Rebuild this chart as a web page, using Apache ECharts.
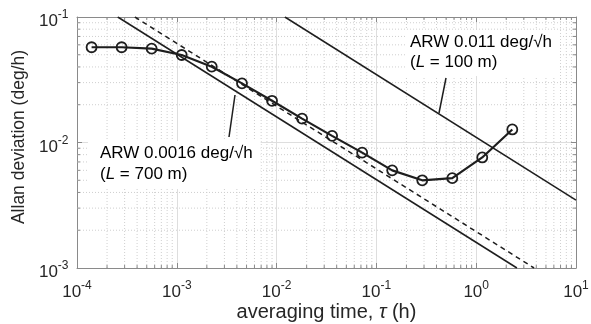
<!DOCTYPE html>
<html>
<head>
<meta charset="utf-8">
<script src="https://cdn.jsdelivr.net/npm/echarts@6/dist/echarts.min.js"></script>
<style>
html,body{margin:0;padding:0;background:#fff;}
#chart{width:591px;height:324px;}
</style>
</head>
<body>
<div id="chart"></div>
<script>
// averaging time tau (h)
const tau = [1.4e-4, 2.8e-4, 5.6e-4, 1.12e-3, 2.24e-3, 4.5e-3, 9.0e-3, 1.8e-2, 3.6e-2, 7.2e-2, 0.144, 0.288, 0.576, 1.15, 2.3];
// Allan deviation (deg/h)
const adev = [0.0574, 0.0574, 0.0559, 0.0498, 0.0402, 0.0296, 0.0215, 0.0155, 0.0113, 0.0083, 0.0060, 0.0050, 0.0052, 0.0076, 0.0127];
// ARW reference lines (endpoints [tau, sigma])
const arwHigh = [[0.0121, 0.1], [10, 0.00348]];      // 0.011 deg/sqrt(h)
const arwLow = [[2.56e-4, 0.1], [2.56, 0.001]];       // 0.0016 deg/sqrt(h)
const arwDashed = [[3.8e-4, 0.1], [3.8, 0.001]];      // dashed
// tick labels: 10^exponent
const xTickExps = ['-4', '-3', '-2', '-1', '0', '1'];
const yTickExps = ['-3', '-2', '-1'];
const xRange = [1e-4, 10];
const yRange = [1e-3, 1e-1];
const xMinor = [];
for (let d = -4; d <= 0; d++) for (let k = 2; k <= 9; k++) xMinor.push(+(k * Math.pow(10, d)).toPrecision(3));
const yMinor = [];
for (let d = -3; d <= -2; d++) for (let k = 2; k <= 9; k++) yMinor.push(+(k * Math.pow(10, d)).toPrecision(3));

const FONT = '"Liberation Sans", Arial, Helvetica, sans-serif';
const TXT = '#262626';
const AX = '#8a8a8a';
const LINE = '#1e1e1e';
const BASE_FONT = '17px ' + FONT;
const SUP_FONT = '12px ' + FONT;

const mctx = document.createElement('canvas').getContext('2d');
function textW(t, f) { mctx.font = f; return mctx.measureText(t).width; }

const chart = echarts.init(document.getElementById('chart'), null, {renderer: 'canvas'});

function minorX(params, api) {
  const v = api.value(0);
  const pb = api.coord([v, yRange[0]]);
  const pt = api.coord([v, yRange[1]]);
  return {type: 'group', children: [
    {type: 'line', shape: {x1: pb[0], y1: pb[1], x2: pt[0], y2: pt[1]}, style: {stroke: '#cfcfcf', lineWidth: 1, lineDash: [1, 2]}},
    {type: 'line', shape: {x1: pb[0], y1: pb[1], x2: pb[0], y2: pb[1] - 3}, style: {stroke: AX, lineWidth: 1}},
    {type: 'line', shape: {x1: pt[0], y1: pt[1], x2: pt[0], y2: pt[1] + 3}, style: {stroke: AX, lineWidth: 1}}
  ]};
}
function minorY(params, api) {
  const v = api.value(1);
  const pl = api.coord([xRange[0], v]);
  const pr = api.coord([xRange[1], v]);
  return {type: 'group', children: [
    {type: 'line', shape: {x1: pl[0], y1: pl[1], x2: pr[0], y2: pr[1]}, style: {stroke: '#cfcfcf', lineWidth: 1, lineDash: [1, 2]}},
    {type: 'line', shape: {x1: pl[0], y1: pl[1], x2: pl[0] + 3, y2: pl[1]}, style: {stroke: AX, lineWidth: 1}},
    {type: 'line', shape: {x1: pr[0], y1: pr[1], x2: pr[0] - 3, y2: pr[1]}, style: {stroke: AX, lineWidth: 1}}
  ]};
}
function xLabel(params, api) {
  const e = xTickExps[params.dataIndex];
  const p = api.coord([api.value(0), yRange[0]]);
  const wb = textW('10', BASE_FONT), ws = textW(e, SUP_FONT);
  const left = p[0] - (wb + ws) / 2;
  return {type: 'group', children: [
    {type: 'text', style: {text: '10', x: left, y: p[1] + 24, font: BASE_FONT, fill: TXT, align: 'left', verticalAlign: 'middle'}},
    {type: 'text', style: {text: e, x: left + wb, y: p[1] + 17.5, font: SUP_FONT, fill: TXT, align: 'left', verticalAlign: 'middle'}}
  ]};
}
function yLabel(params, api) {
  const e = yTickExps[params.dataIndex];
  const p = api.coord([xRange[0], api.value(1)]);
  const right = p[0] - 8.5;
  const ws = textW(e, SUP_FONT);
  return {type: 'group', children: [
    {type: 'text', style: {text: '10', x: right - ws, y: p[1] + 4.5, font: BASE_FONT, fill: TXT, align: 'right', verticalAlign: 'middle'}},
    {type: 'text', style: {text: e, x: right, y: p[1] - 2, font: SUP_FONT, fill: TXT, align: 'right', verticalAlign: 'middle'}}
  ]};
}

const annRich = {
  n: {fontSize: 17, fontFamily: FONT, color: TXT, lineHeight: 20},
  i: {fontSize: 17, fontFamily: FONT, color: TXT, fontStyle: 'italic', lineHeight: 20}
};

const axisCommon = {
  axisLine: {show: true, lineStyle: {color: AX, width: 1}},
  axisTick: {show: true, inside: true, length: 5, lineStyle: {color: AX}},
  axisLabel: {show: false}
};

const option = {
  animation: false,
  backgroundColor: '#fff',
  grid: {left: 77, right: 15, top: 17, bottom: 56, containLabel: false, outerBoundsMode: 'none'},
  xAxis: [Object.assign({
    type: 'log', logBase: 10, min: xRange[0], max: xRange[1], position: 'bottom',
    splitLine: {show: true, lineStyle: {color: '#dedede', width: 1}},
    name: '{a|averaging time, }{i|τ}{a| (h)}',
    nameLocation: 'middle', nameGap: 34,
    nameTextStyle: {rich: {
      a: {fontSize: 20, fontFamily: FONT, color: TXT},
      i: {fontSize: 20, fontFamily: FONT, color: TXT, fontStyle: 'italic'}
    }}
  }, axisCommon), Object.assign({
    type: 'log', logBase: 10, min: xRange[0], max: xRange[1], position: 'top',
    splitLine: {show: false}
  }, axisCommon)],
  yAxis: [Object.assign({
    type: 'log', logBase: 10, min: yRange[0], max: yRange[1], position: 'left',
    splitLine: {show: true, lineStyle: {color: '#dedede', width: 1}}
  }, axisCommon), Object.assign({
    type: 'log', logBase: 10, min: yRange[0], max: yRange[1], position: 'right',
    splitLine: {show: false}
  }, axisCommon)],
  series: [
    {type: 'custom', renderItem: minorX, data: xMinor.map(v => [v, 0.01]), silent: true, z: 1},
    {type: 'custom', renderItem: minorY, data: yMinor.map(v => [0.001 * 1.0001, v]), silent: true, z: 1},
    {type: 'custom', renderItem: xLabel, data: xTickExps.map(e => [Math.pow(10, +e), 0.01]), silent: true, z: 5, clip: false},
    {type: 'custom', renderItem: yLabel, data: yTickExps.map(e => [0.001 * 1.0001, Math.pow(10, +e)]), silent: true, z: 5, clip: false},
    {type: 'line', data: arwHigh, showSymbol: false, symbol: 'none', lineStyle: {color: LINE, width: 1.5}, z: 3},
    {type: 'line', data: arwLow, showSymbol: false, symbol: 'none', lineStyle: {color: LINE, width: 1.5}, z: 3},
    {type: 'line', data: arwDashed, showSymbol: false, symbol: 'none', lineStyle: {color: LINE, width: 1.5, type: [5, 4]}, z: 3},
    {type: 'line', data: tau.map((t, i) => [t, adev[i]]), symbol: 'circle', symbolSize: 10,
      itemStyle: {color: 'rgba(255,255,255,0)', borderColor: LINE, borderWidth: 1.8},
      lineStyle: {color: LINE, width: 2.2}, z: 4}
  ],
  graphic: [
    {type: 'text', x: 19, y: 137, rotation: Math.PI / 2, z: 10, style: {
      text: 'Allan deviation (deg/h)', font: '17.5px ' + FONT, fill: TXT,
      align: 'center', verticalAlign: 'middle'}},
    {type: 'text', left: 405, top: 30, z: 10, style: {
      text: '{n|ARW 0.011 deg/√h}\n{n|(}{i|L}{n| = 100 m)}', rich: annRich,
      backgroundColor: '#fff', padding: [2, 8, 4, 5]}},
    {type: 'line', z: 10, shape: {x1: 439, y1: 113, x2: 446, y2: 78}, style: {stroke: LINE, lineWidth: 1.5}},
    {type: 'text', left: 88, top: 141, z: 10, style: {
      text: '{n|ARW 0.0016 deg/√h}\n{n|(}{i|L}{n| = 700 m)}', rich: {
        n: {fontSize: 17, fontFamily: FONT, color: TXT, lineHeight: 21},
        i: {fontSize: 17, fontFamily: FONT, color: TXT, fontStyle: 'italic', lineHeight: 21}
      },
      backgroundColor: '#fff', padding: [2, 8, 4, 12]}},
    {type: 'line', z: 10, shape: {x1: 235, y1: 95, x2: 229, y2: 137}, style: {stroke: LINE, lineWidth: 1.5}}
  ]
};
chart.setOption(option);
</script>
</body>
</html>
